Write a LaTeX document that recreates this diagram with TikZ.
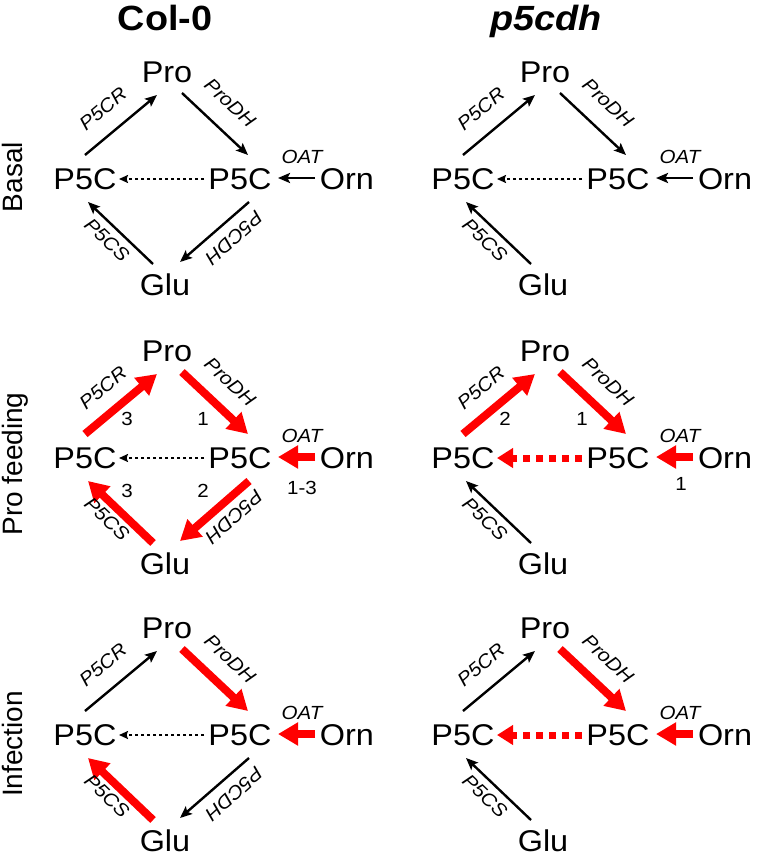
\documentclass[tikz,border=0pt]{standalone}
\usepackage{fontspec}
\setmainfont{Liberation Sans}[FakeStretch=1.08]
\newfontfamily\rowfont{Liberation Sans}
\usetikzlibrary{arrows.meta,calc}
\definecolor{rd}{RGB}{255,0,0}
\tikzset{
 met/.style={inner sep=0pt, font=\fontsize{30}{35}\selectfont},
 enz/.style={inner sep=0pt, font=\fontsize{19}{22}\selectfont\itshape},
 num/.style={inner sep=0pt, font=\fontsize{19}{22}\selectfont},
 ttl/.style={inner sep=0pt, anchor=base, font=\fontsize{35}{40}\selectfont\bfseries},
 rowlab/.style={inner sep=0pt, anchor=base, rotate=90, font=\rowfont\fontsize{28}{32}\selectfont},
 thinarr/.style={draw=black, line width=2.4pt, -{Stealth[length=12pt,width=10pt,inset=2.5pt]}},
 thickarr/.style={draw=rd, line width=8pt, -{Triangle[length=20pt,width=22pt]}},
 dotarr/.style={draw=black, line width=2.8pt, dash pattern=on 3pt off 3pt, -{Stealth[length=9pt,width=8pt,inset=1.5pt]}},
 rdasharr/.style={draw=rd, line width=7pt, dash pattern=on 7pt off 6pt, -{Triangle[length=16pt,width=19pt]}},
}
% panel nodes: #1 prefix, #2 x, #3 y of left P5C
\newcommand\panelnodes[3]{%
 \node[met] (#1lp) at (#2,#3) {P5C};
 \node[met] (#1rp) at ({#2+155},#3) {P5C};
 \node[met] (#1orn) at ({#2+262},#3) {Orn};
 \node[met] (#1pro) at ({#2+82},{#3-107}) {Pro};
 \node[met] (#1glu) at ({#2+80},{#3+106}) {Glu};
}
\newcommand\aPCR[2]{\draw[#2] ($(#1lp)+(0,-24)$) -- ($(#1pro)+(-10,23)$);}
\newcommand\aPDH[2]{\draw[#2] ($(#1pro)+(15,21)$) -- ($(#1rp)+(8,-24)$);}
\newcommand\aOAT[2]{\draw[#2] ($(#1orn)+(-32,-1)$) -- ($(#1rp)+(38,-1)$);}
\newcommand\aDOT[2]{\draw[#2] ($(#1rp)+(-36,0)$) -- ($(#1lp)+(34,0)$);}
\newcommand\aPDC[2]{\draw[#2] ($(#1rp)+(9,23)$) -- ($(#1glu)+(15,-23)$);}
\newcommand\aPCS[2]{\draw[#2] ($(#1glu)+(-12,-21)$) -- ($(#1lp)+(3,23)$);}
\newcommand\lPCR[1]{\node[enz, rotate=40] (#1l1) at ($(#1lp)+(18,-70)$) {P5CR};}
\newcommand\lPDH[1]{\node[enz, rotate=-43] (#1l2) at ($(#1rp)+(-10,-76)$) {ProDH};}
\newcommand\lOAT[1]{\node[enz] (#1l3) at ($(#1rp)+(62,-22)$) {OAT};}
\newcommand\lPDC[1]{\node[enz, rotate=-138] (#1l4) at ($(#1rp)+(-6,59)$) {P5CDH};}
\newcommand\lPCS[1]{\node[enz, rotate=-44] (#1l5) at ($(#1lp)+(22,61)$) {P5CS};}
\begin{document}
\begin{tikzpicture}[x=1pt,y=-1pt]
\fill[white] (0,0) rectangle (756,859);
\useasboundingbox (0,0) rectangle (756,859);
% titles
\node[ttl] (t1) at (165,31) {Col-0};
\node[ttl] (t2) at (546,31) {\itshape p5cdh};
\node[rowlab] (r1) at (22,177) {Basal};
\node[rowlab] (r2) at (22,464) {Pro feeding};
\node[rowlab] (r3) at (22,744) {Infection};
% Panel A
\panelnodes{a}{85}{179}
\aPCR{a}{thinarr}\aPDH{a}{thinarr}\aOAT{a}{thinarr}\aDOT{a}{dotarr}\aPDC{a}{thinarr}\aPCS{a}{thinarr}
\lPCR{a}\lPDH{a}\lOAT{a}\lPDC{a}\lPCS{a}
% Panel B
\panelnodes{b}{463}{179}
\aPCR{b}{thinarr}\aPDH{b}{thinarr}\aOAT{b}{thinarr}\aDOT{b}{dotarr}\aPCS{b}{thinarr}
\lPCR{b}\lPDH{b}\lOAT{b}\lPCS{b}
% Panel C
\panelnodes{c}{85}{458}
\aPCR{c}{thickarr}\aPDH{c}{thickarr}\aOAT{c}{thickarr}\aDOT{c}{dotarr}\aPDC{c}{thickarr}\aPCS{c}{thickarr}
\lPCR{c}\lPDH{c}\lOAT{c}\lPDC{c}\lPCS{c}
\node[num] (cn1) at ($(clp)+(42,-39)$) {3};
\node[num] (cn2) at ($(crp)+(-37,-39)$) {1};
\node[num] (cn3) at ($(clp)+(42,33)$) {3};
\node[num] (cn4) at ($(crp)+(-37,33)$) {2};
\node[num] (cn5) at ($(crp)+(62,30)$) {1-3};
% Panel D
\panelnodes{d}{463}{458}
\aPCR{d}{thickarr}\aPDH{d}{thickarr}\aOAT{d}{thickarr}\aDOT{d}{rdasharr}\aPCS{d}{thinarr}
\lPCR{d}\lPDH{d}\lOAT{d}\lPCS{d}
\node[num] (dn1) at ($(dlp)+(42,-39)$) {2};
\node[num] (dn2) at ($(drp)+(-36,-39)$) {1};
\node[num] (dn3) at ($(drp)+(63,26)$) {1};
% Panel E
\panelnodes{e}{85}{735}
\aPCR{e}{thinarr}\aPDH{e}{thickarr}\aOAT{e}{thickarr}\aDOT{e}{dotarr}\aPDC{e}{thinarr}\aPCS{e}{thickarr}
\lPCR{e}\lPDH{e}\lOAT{e}\lPDC{e}\lPCS{e}
% Panel F
\panelnodes{f}{463}{735}
\aPCR{f}{thinarr}\aPDH{f}{thickarr}\aOAT{f}{thickarr}\aDOT{f}{rdasharr}\aPCS{f}{thinarr}
\lPCR{f}\lPDH{f}\lOAT{f}\lPCS{f}
\end{tikzpicture}
\end{document}
